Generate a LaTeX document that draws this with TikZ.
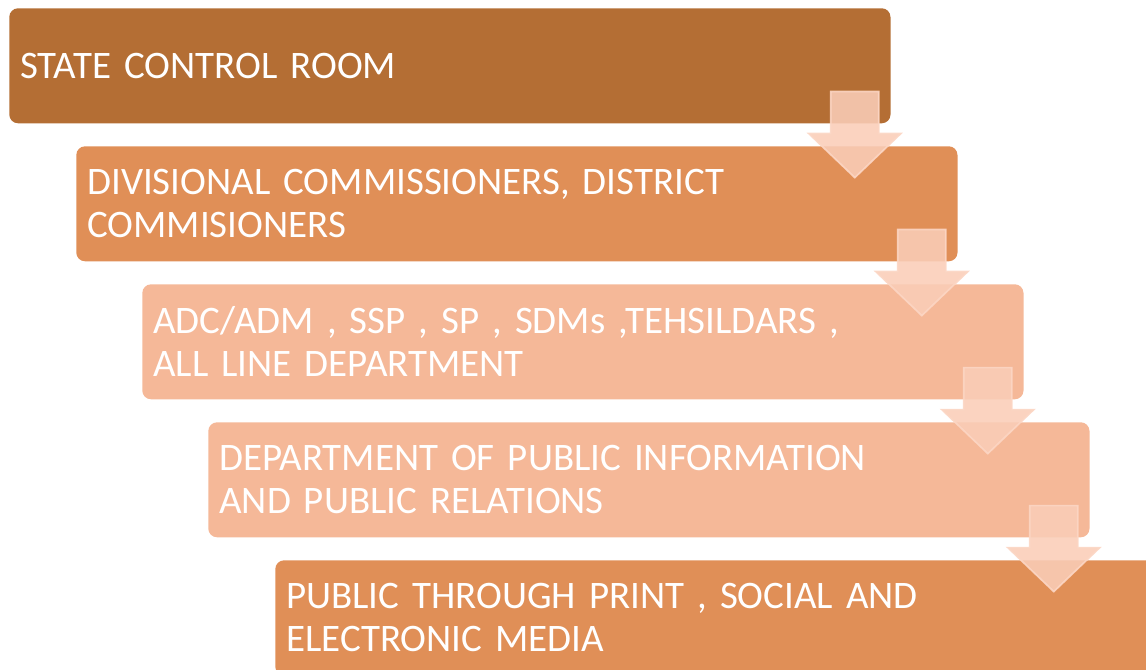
\documentclass[tikz,border=0pt]{standalone}
\usepackage{fontspec}
\setmainfont{Carlito}
\usepackage{xcolor}
\usepackage{tikz}
\usetikzlibrary{calc}

\definecolor{darkbrown}{RGB}{180,110,52}
\definecolor{midorange}{RGB}{224,143,87}
\definecolor{lightpeach}{RGB}{245,184,152}
\definecolor{arrowfill}{RGB}{250,205,183}
\definecolor{arrowline}{RGB}{252,214,196}

\tikzset{
    stepbox/.style={anchor=north west, rounded corners=0.22cm, text=white,
        minimum width=22.025cm, minimum height=2.875cm, inner xsep=0.275cm,
        text width=21.475cm, align=left,
        font=\fontsize{27.7}{30.6}\selectfont},
    flowarrow/.style={fill=arrowfill, fill opacity=0.88, draw=arrowline,
        draw opacity=0.9, line width=1.2pt, line join=miter}
}

\begin{document}
\begin{tikzpicture}[x=0.025cm, y=-0.025cm]
        \clip (0,0) rectangle (1146,670);
        %% boxes
        \node[stepbox, fill=darkbrown] (room) at (9,8) {STATE CONTROL ROOM};
        \node[stepbox, fill=midorange] (comm) at (76,146) {DIVISIONAL COMMISSIONERS, DISTRICT\\COMMISIONERS};
        \node[stepbox, fill=lightpeach] (adc) at (142,284) {ADC/ADM , SSP , SP , SDMs ,TEHSILDARS ,\\ALL LINE DEPARTMENT};
        \node[stepbox, fill=lightpeach] (dpr) at (208,422) {DEPARTMENT OF PUBLIC INFORMATION\\AND PUBLIC RELATIONS};
        \node[stepbox, fill=midorange] (media) at (275,560) {PUBLIC THROUGH PRINT , SOCIAL AND\\ELECTRONIC MEDIA};
        %% arrows
        \foreach \b in {room,comm,adc,dpr}
            \draw[flowarrow] ($(\b.south east)+(-60,-32)$) -- ++(48,0) -- ++(0,42) -- ++(22,0)
                -- ++(-46,44) -- ++(-46,-44) -- ++(22,0) -- cycle;
\end{tikzpicture}
\end{document}
